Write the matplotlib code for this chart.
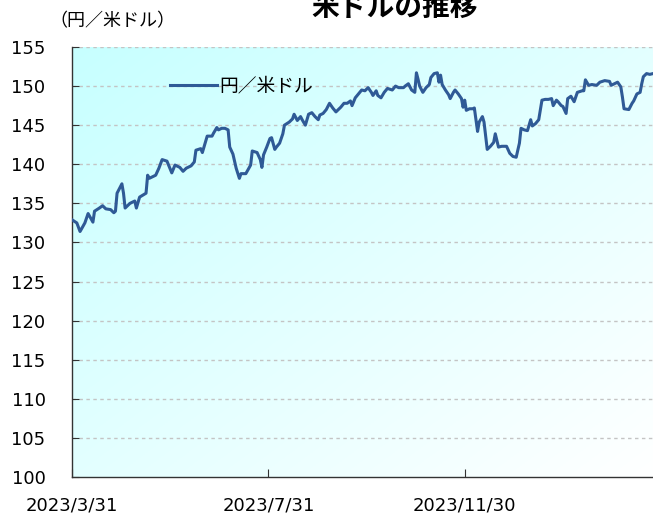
import matplotlib
matplotlib.use("Agg")
import matplotlib.pyplot as plt
import numpy as np
import pandas as pd

plt.rcParams['font.family'] = ['DejaVu Sans', 'Noto Sans CJK JP']

dates = [
    "2023-03-31", "2023-04-03", "2023-04-05", "2023-04-08", "2023-04-10", "2023-04-13", "2023-04-14",
    "2023-04-17", "2023-04-19", "2023-04-21", "2023-04-24", "2023-04-26", "2023-04-27", "2023-04-28",
    "2023-05-01", "2023-05-02", "2023-05-03", "2023-05-06", "2023-05-09", "2023-05-10", "2023-05-12",
    "2023-05-16", "2023-05-17", "2023-05-18", "2023-05-22", "2023-05-24", "2023-05-26", "2023-05-29",
    "2023-06-01", "2023-06-03", "2023-06-06", "2023-06-08", "2023-06-10", "2023-06-13", "2023-06-15",
    "2023-06-16", "2023-06-19", "2023-06-20", "2023-06-22", "2023-06-23", "2023-06-26", "2023-06-27",
    "2023-06-29", "2023-06-30", "2023-07-02", "2023-07-04", "2023-07-06", "2023-07-07", "2023-07-09",
    "2023-07-11", "2023-07-13", "2023-07-14", "2023-07-17", "2023-07-20", "2023-07-21", "2023-07-24",
    "2023-07-26", "2023-07-27", "2023-07-28", "2023-07-30", "2023-08-01", "2023-08-02", "2023-08-04",
    "2023-08-05", "2023-08-07", "2023-08-09", "2023-08-10", "2023-08-13", "2023-08-15", "2023-08-16",
    "2023-08-18", "2023-08-20", "2023-08-21", "2023-08-23", "2023-08-25", "2023-08-27", "2023-08-29",
    "2023-08-31", "2023-09-01", "2023-09-03", "2023-09-05", "2023-09-07", "2023-09-09", "2023-09-11",
    "2023-09-14", "2023-09-16", "2023-09-18", "2023-09-20", "2023-09-21", "2023-09-23", "2023-09-25",
    "2023-09-27", "2023-09-29", "2023-10-01", "2023-10-03", "2023-10-04", "2023-10-06", "2023-10-07",
    "2023-10-09", "2023-10-11", "2023-10-13", "2023-10-16", "2023-10-18", "2023-10-20", "2023-10-23",
    "2023-10-24", "2023-10-26", "2023-10-28", "2023-10-30", "2023-10-31", "2023-11-01", "2023-11-02",
    "2023-11-04", "2023-11-06", "2023-11-08", "2023-11-09", "2023-11-11", "2023-11-13", "2023-11-14",
    "2023-11-15", "2023-11-16", "2023-11-18", "2023-11-20", "2023-11-21", "2023-11-23", "2023-11-24",
    "2023-11-26", "2023-11-28", "2023-11-29", "2023-11-30", "2023-12-01", "2023-12-03", "2023-12-05",
    "2023-12-06", "2023-12-08", "2023-12-09", "2023-12-11", "2023-12-12", "2023-12-14", "2023-12-16",
    "2023-12-18", "2023-12-19", "2023-12-21", "2023-12-23", "2023-12-26", "2023-12-28", "2023-12-30",
    "2024-01-01", "2024-01-03", "2024-01-04", "2024-01-06", "2024-01-08", "2024-01-10", "2024-01-11",
    "2024-01-13", "2024-01-15", "2024-01-17", "2024-01-19", "2024-01-21", "2024-01-23", "2024-01-24",
    "2024-01-26", "2024-01-27", "2024-01-29", "2024-01-30", "2024-02-01", "2024-02-02", "2024-02-04",
    "2024-02-06", "2024-02-08", "2024-02-11", "2024-02-12", "2024-02-13", "2024-02-15", "2024-02-17",
    "2024-02-20", "2024-02-22", "2024-02-25", "2024-02-28", "2024-02-29", "2024-03-02", "2024-03-04",
    "2024-03-06", "2024-03-07", "2024-03-08", "2024-03-11", "2024-03-13", "2024-03-14", "2024-03-16",
    "2024-03-18", "2024-03-19", "2024-03-20", "2024-03-22", "2024-03-24", "2024-03-26",
]

usdjpy = [
    132.9, 132.5, 131.4, 132.5, 133.7, 132.6, 134.0,
    134.4, 134.7, 134.3, 134.2, 133.8, 134.0, 136.3,
    137.5, 136.3, 134.4, 135.0, 135.3, 134.4, 135.8,
    136.3, 138.6, 138.2, 138.6, 139.5, 140.6, 140.4,
    138.9, 139.9, 139.6, 139.1, 139.5, 139.8, 140.3,
    141.8, 142.0, 141.5, 142.9, 143.6, 143.6, 144.0,
    144.7, 144.4, 144.6, 144.6, 144.4, 142.2, 141.3,
    139.5, 138.2, 138.8, 138.8, 139.9, 141.7, 141.5,
    140.6, 139.6, 141.2, 142.2, 143.3, 143.4, 141.9,
    142.2, 142.7, 143.9, 145.0, 145.4, 145.8, 146.4,
    145.6, 146.1, 145.7, 145.0, 146.4, 146.6, 146.1,
    145.7, 146.3, 146.5, 147.0, 147.8, 147.2, 146.7,
    147.3, 147.8, 147.8, 148.1, 147.5, 148.5, 149.0,
    149.5, 149.4, 149.8, 149.2, 148.8, 149.4, 148.8,
    148.5, 149.2, 149.7, 149.5, 150.0, 149.8, 149.8,
    150.0, 150.3, 149.5, 149.2, 151.7, 150.9, 150.0,
    149.2, 149.8, 150.2, 151.1, 151.6, 151.7, 150.5,
    151.4, 150.2, 149.5, 148.9, 148.4, 149.2, 149.5,
    149.0, 148.4, 147.3, 148.2, 146.9, 147.1, 147.1,
    147.2, 144.2, 145.4, 146.1, 145.4, 141.9, 142.3,
    142.8, 143.9, 142.2, 142.3, 142.3, 141.4, 141.0,
    140.9, 142.7, 144.6, 144.4, 144.3, 145.7, 144.9,
    145.2, 145.7, 148.2, 148.3, 148.3, 148.4, 147.5,
    148.2, 148.0, 147.5, 147.4, 146.5, 148.4, 148.7,
    148.0, 149.2, 149.4, 149.4, 150.8, 150.1, 150.2,
    150.1, 150.5, 150.7, 150.6, 150.1, 150.3, 150.5,
    149.9, 148.6, 147.1, 147.0, 147.8, 148.1, 149.0,
    149.2, 150.3, 151.2, 151.6, 151.5, 151.6,
]

series_label = "円／米ドル"
title_text = "米ドルの推移"
unit_text = "（円／米ドル）"
x_tick_labels = ["2023/3/31", "2023/7/31", "2023/11/30"]
x_tick_dates = ["2023-03-31", "2023-07-31", "2023-11-30"]
y_ticks = list(range(100, 156, 5))

x = pd.to_datetime(dates)
cjk = ['Noto Sans CJK JP', 'DejaVu Sans']

fig = plt.figure(figsize=(6.53, 5.17), dpi=100)
ax = fig.add_axes([72/653, 40/517, 1 - 72/653, 430/517])

# gradient background (cyan top-left -> white bottom-right)
n = 200
gx, gy = np.meshgrid(np.linspace(0, 1, n), np.linspace(0, 1, n))
t = np.clip((gx + gy) / 2.0, 0, 1)  # row 0 is the top (origin='upper')
c0 = np.array([0.78, 1.0, 1.0])
c1 = np.array([1.0, 1.0, 1.0])
img = c0[None, None, :] * (1 - t[..., None]) + c1[None, None, :] * t[..., None]
ax.imshow(img, extent=[0, 1, 0, 1], transform=ax.transAxes, origin='upper',
          aspect='auto', zorder=0)

for yv in y_ticks[1:]:
    ax.axhline(yv, color='#c4c4c4', lw=1.0, ls=(0, (2.5, 2.5)), zorder=1)

ax.plot(x, usdjpy, color='#2f5a96', lw=2.2, label=series_label, zorder=3)

ax.set_ylim(100, 155)
ax.set_yticks(y_ticks)
ax.set_xlim(pd.Timestamp("2023-03-31"), pd.Timestamp("2024-03-26"))
ax.set_xticks(pd.to_datetime(x_tick_dates))
ax.set_xticklabels(x_tick_labels)

for s in ['top', 'right']:
    ax.spines[s].set_visible(False)
for s in ['left', 'bottom']:
    ax.spines[s].set_color('#333333')
    ax.spines[s].set_linewidth(1.0)

ax.tick_params(axis='y', direction='in', length=5, pad=19, labelsize=13, colors='#333333', labelcolor='black')
ax.tick_params(axis='x', direction='in', length=6, pad=14, labelsize=13, colors='#333333', labelcolor='black')

leg = ax.legend(loc='center left', bbox_to_anchor=(0.152, 0.909), frameon=False,
                handlelength=2.5, handletextpad=0.15, borderpad=0,
                prop={'family': cjk, 'size': 13.5})

fig.text(395/653, 1 - 16/517, title_text, ha='center', va='baseline',
         fontsize=20, fontweight='bold', family=cjk)
fig.text(112/653, 1 - 21/517, unit_text, ha='center', va='center',
         fontsize=13, family=cjk)

fig.savefig("out.png", dpi=100)
